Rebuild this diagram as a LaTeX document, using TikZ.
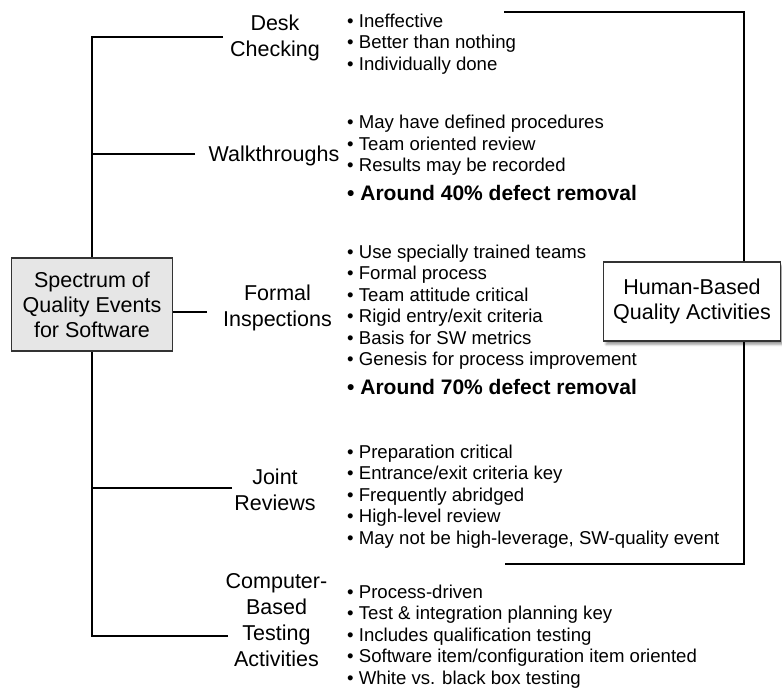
\documentclass[tikz,border=0pt]{standalone}
\usepackage{fontspec}
\setmainfont{Liberation Sans}
\usetikzlibrary{positioning,shadows.blur}
\definecolor{boxgray}{HTML}{E6E6E6}
\definecolor{edge}{HTML}{333333}

\begin{document}
\begin{tikzpicture}[
x=1pt,y=-1pt,
line/.style={line width=2pt,color=black},
spec/.style={draw=edge,line width=1.5pt,fill=boxgray,align=center,minimum width=161pt,minimum height=93pt,inner sep=0pt,font=\fontsize{21.5}{25}\selectfont},
human/.style={draw=edge,line width=1.5pt,fill=white,align=center,minimum width=177pt,minimum height=79pt,inner sep=0pt,font=\fontsize{21.5}{25}\selectfont,blur shadow={shadow xshift=2.5pt,shadow yshift=-3.5pt,shadow blur steps=8}},
event/.style={anchor=north,align=center,inner sep=0pt,font=\fontsize{21.5}{26}\selectfont},
items/.style={anchor=north west,align=left,inner sep=0pt,font=\fontsize{18.6}{21.5}\selectfont},
key/.style={inner sep=0pt,font=\fontsize{21}{24}\selectfont\bfseries}
]
\useasboundingbox (0,0) rectangle (782,691);

\node[spec] (spectrum) at (92,304.5) {Spectrum of\\Quality Events\\for Software};

% the five kinds of event
\node[event] (desk) at (275,14.5) {Desk\\Checking};
\node[event] (walk) at (274,146) {Walkthroughs};
\node[event] (formal) at (277.5,285) {Formal\\Inspections};
\node[event] (joint) at (275,469) {Joint\\Reviews};
\node[event] (comp) at (276.5,573) {Computer-\\Based\\Testing\\Activities};

\coordinate (deskend) at (223,37);
\coordinate (walkend) at (195,154);
\coordinate (formalend) at (207,312);
\coordinate (jointend) at (232,488);
\coordinate (compend) at (228,636);
\draw[line] (deskend) -| (spectrum.north);
\draw[line] (compend) -| (spectrum.south);
\draw[line] (walkend) -- (walkend -| spectrum.north);
\draw[line] (jointend) -- (jointend -| spectrum.south);
\draw[line] (formalend) -- (formalend -| spectrum.east);

% bullet lists
\node[items] (deskitems) at (347,13.5) {• Ineffective\\• Better than nothing\\• Individually done};
\node[items] (walkitems) at (347,115) {• May have defined procedures\\• Team oriented review\\• Results may be recorded};
\node[key,below right=9pt and 0pt of walkitems.south west] (walkkey) {• Around 40\% defect removal};
\node[items] (formalitems) at (347,244.5) {• Use specially trained teams\\• Formal process\\• Team attitude critical\\• Rigid entry/exit criteria\\• Basis for SW metrics\\• Genesis for process improvement};
\node[key,below right=9pt and 0pt of formalitems.south west] (formalkey) {• Around 70\% defect removal};
\node[items] (jointitems) at (347,444.5) {• Preparation critical\\• Entrance/exit criteria key\\• Frequently abridged\\• High-level review\\• May not be high-leverage, SW-quality event};
\node[items] (compitems) at (347,584.5) {• Process-driven\\• Test \& integration planning key\\• Includes qualification testing\\• Software item/configuration item oriented\\• White vs. black box testing};

% bracket round the human-based events
\coordinate (brtop) at (504,12);
\coordinate (brcorner) at (744,12);
\coordinate (brbot) at (505,564);
\draw[line] (brtop) -- (brcorner) |- (brbot);
\node[human] (human) at (692,301.5) {Human-Based\\Quality Activities};
\end{tikzpicture}
\end{document}
